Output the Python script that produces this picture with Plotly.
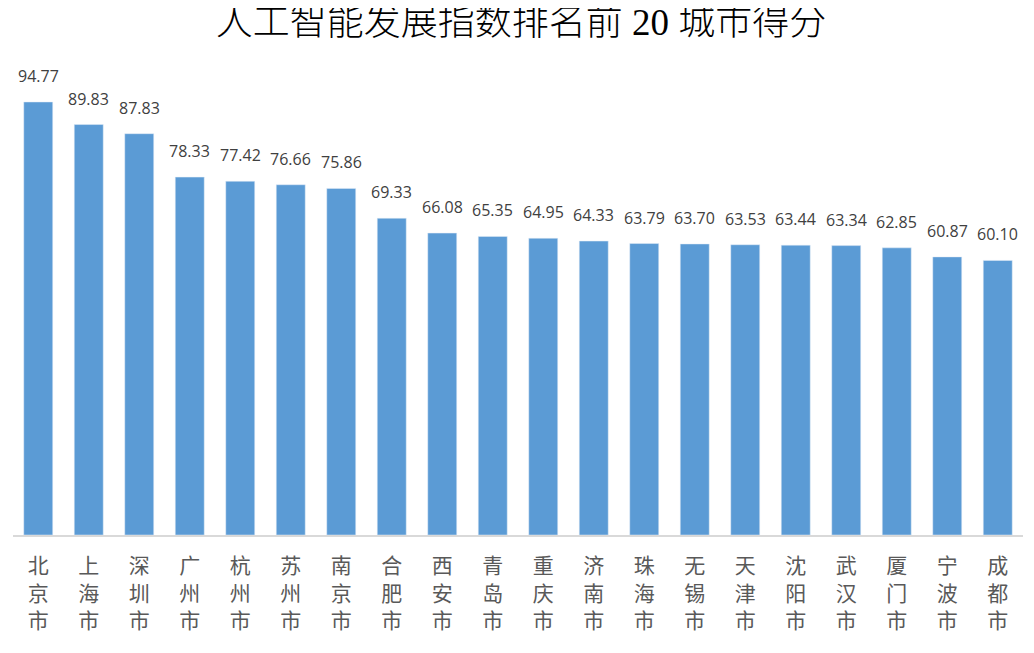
import plotly.graph_objects as go

# 城市与得分
cities = ["北京市", "上海市", "深圳市", "广州市", "杭州市", "苏州市", "南京市", "合肥市", "西安市", "青岛市",
          "重庆市", "济南市", "珠海市", "无锡市", "天津市", "沈阳市", "武汉市", "厦门市", "宁波市", "成都市"]
scores = [94.77, 89.83, 87.83, 78.33, 77.42, 76.66, 75.86, 69.33, 66.08, 65.35,
          64.95, 64.33, 63.79, 63.70, 63.53, 63.44, 63.34, 62.85, 60.87, 60.10]

# 竖排标签
tick_text = ["<br>".join(c) for c in cities]

fig = go.Figure()
fig.add_trace(go.Bar(
    x=cities,
    y=scores,
    marker_color="#5B9BD5",
    hoverinfo="x+y",
))

# 数值标签
for c, v in zip(cities, scores):
    fig.add_annotation(
        x=c, y=v, text=f"{v:.2f}", showarrow=False,
        yanchor="bottom", yshift=13,
        font=dict(size=16, color="#404040", family="Open Sans, Liberation Sans, sans-serif"),
    )

# page body has an 8px margin, so the figure is a bit smaller than the window
fig.update_layout(
    width=1026,
    height=645,
    margin=dict(l=5, r=11, t=52, b=118),
    paper_bgcolor="white",
    plot_bgcolor="white",
    bargap=0.426,
    showlegend=False,
    title=dict(
        text="人工智能发展指数排名前 20 城市得分",
        x=0.5, xanchor="center",
        y=1 - 14 / 645, yanchor="middle",
        font=dict(size=37, color="#000000", weight=300,
                  family="Liberation Serif, Noto Sans CJK SC, serif"),
    ),
    xaxis=dict(
        tickmode="array",
        tickvals=cities,
        ticktext=tick_text,
        tickangle=0,
        showline=True,
        linecolor="#D9D9D9",
        linewidth=2,
        ticks="",
        ticklabelstandoff=11,
        showgrid=False,
        tickfont=dict(size=21, color="#595959",
                      family="Noto Sans CJK SC, sans-serif"),
    ),
    yaxis=dict(
        range=[0, 103.96],
        visible=False,
        showgrid=False,
        zeroline=False,
    ),
)

fig.write_html("out.html")
